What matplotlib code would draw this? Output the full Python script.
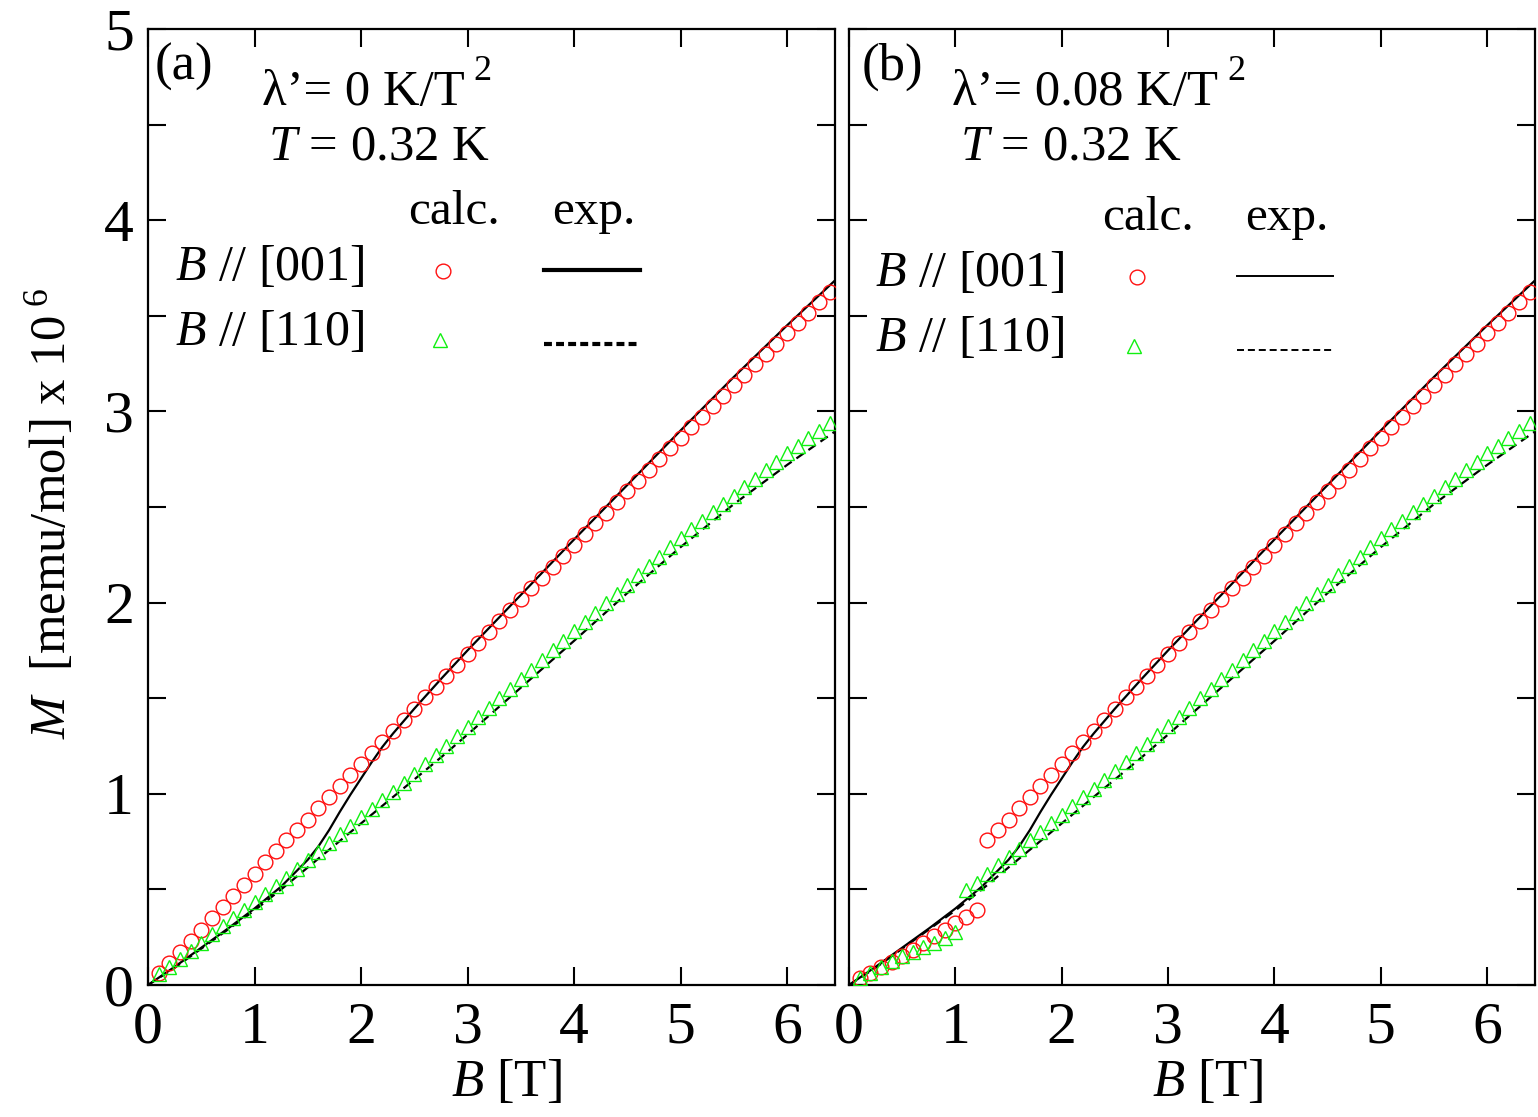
import matplotlib
matplotlib.use("Agg")
import matplotlib.pyplot as plt
from matplotlib.lines import Line2D

plt.rcParams['font.family'] = ['Liberation Serif', 'DejaVu Serif']
plt.rcParams['mathtext.fontset'] = 'custom'
plt.rcParams['mathtext.rm'] = 'Liberation Serif'
plt.rcParams['mathtext.it'] = 'Liberation Serif:italic'

# ---------------- data ----------------
B_calc = [0.1, 0.2, 0.3, 0.4, 0.5, 0.6, 0.7, 0.8, 0.9, 1.0,
          1.1, 1.2, 1.3, 1.4, 1.5, 1.6, 1.7, 1.8, 1.9, 2.0,
          2.1, 2.2, 2.3, 2.4, 2.5, 2.6, 2.7, 2.8, 2.9, 3.0,
          3.1, 3.2, 3.3, 3.4, 3.5, 3.6, 3.7, 3.8, 3.9, 4.0,
          4.1, 4.2, 4.3, 4.4, 4.5, 4.6, 4.7, 4.8, 4.9, 5.0,
          5.1, 5.2, 5.3, 5.4, 5.5, 5.6, 5.7, 5.8, 5.9, 6.0,
          6.1, 6.2, 6.3, 6.4]

# panel (a): lambda' = 0
Ma_001 = [0.064, 0.117, 0.174, 0.232, 0.288, 0.349, 0.408, 0.467, 0.525, 0.582,
          0.642, 0.699, 0.757, 0.810, 0.865, 0.924, 0.985, 1.040, 1.098, 1.154,
          1.215, 1.273, 1.328, 1.386, 1.442, 1.505, 1.560, 1.617, 1.675, 1.732,
          1.789, 1.846, 1.903, 1.960, 2.017, 2.074, 2.131, 2.188, 2.245, 2.301,
          2.358, 2.414, 2.470, 2.526, 2.582, 2.638, 2.694, 2.750, 2.806, 2.862,
          2.918, 2.973, 3.028, 3.083, 3.138, 3.192, 3.246, 3.300, 3.354, 3.408,
          3.462, 3.516, 3.570, 3.624]
Ma_110 = [0.056, 0.095, 0.138, 0.180, 0.222, 0.265, 0.308, 0.350, 0.392, 0.434,
          0.476, 0.518, 0.562, 0.607, 0.652, 0.698, 0.744, 0.789, 0.834, 0.878,
          0.922, 0.967, 1.012, 1.058, 1.106, 1.155, 1.203, 1.252, 1.301, 1.350,
          1.400, 1.450, 1.500, 1.550, 1.600, 1.650, 1.700, 1.750, 1.800, 1.849,
          1.898, 1.947, 1.996, 2.045, 2.094, 2.143, 2.192, 2.241, 2.290, 2.338,
          2.383, 2.428, 2.472, 2.516, 2.560, 2.604, 2.648, 2.692, 2.736, 2.780,
          2.820, 2.860, 2.900, 2.940]

# panel (b): lambda' = 0.08 K/T^2
Mb_001 = [0.035, 0.062, 0.092, 0.122, 0.150, 0.184, 0.219, 0.256, 0.289, 0.323,
          0.357, 0.392, 0.758, 0.810, 0.865, 0.924, 0.985, 1.040, 1.098, 1.154,
          1.215, 1.273, 1.328, 1.386, 1.442, 1.505, 1.560, 1.617, 1.675, 1.732,
          1.789, 1.846, 1.903, 1.960, 2.017, 2.074, 2.131, 2.188, 2.245, 2.301,
          2.358, 2.414, 2.470, 2.526, 2.582, 2.638, 2.694, 2.750, 2.806, 2.862,
          2.918, 2.973, 3.028, 3.083, 3.138, 3.192, 3.246, 3.300, 3.354, 3.408,
          3.462, 3.516, 3.570, 3.624]
Mb_110 = [0.035, 0.064, 0.094, 0.123, 0.150, 0.175, 0.200, 0.222, 0.248, 0.279,
          0.497, 0.535, 0.582, 0.628, 0.670, 0.712, 0.756, 0.800, 0.846, 0.891,
          0.936, 0.981, 1.026, 1.073, 1.119, 1.165, 1.212, 1.259, 1.306, 1.353,
          1.400, 1.450, 1.500, 1.550, 1.600, 1.650, 1.700, 1.750, 1.800, 1.849,
          1.898, 1.947, 1.996, 2.045, 2.094, 2.143, 2.192, 2.241, 2.290, 2.338,
          2.383, 2.428, 2.472, 2.516, 2.560, 2.604, 2.648, 2.692, 2.736, 2.780,
          2.820, 2.860, 2.900, 2.940]

# experiment (same in both panels)
B_exp001 = [0.0, 0.25, 0.5, 0.75, 1.0, 1.25, 1.5, 1.6, 1.7, 1.8, 1.9, 2.0,
            2.1, 2.2, 2.3, 2.4, 2.5, 2.75, 3.0, 3.5, 4.0, 4.5, 5.0, 5.5, 6.0, 6.45]
M_exp001 = [0.0, 0.095, 0.195, 0.295, 0.400, 0.515, 0.655, 0.725, 0.810, 0.905,
            0.995, 1.080, 1.165, 1.245, 1.315, 1.380, 1.445, 1.600, 1.750, 2.040,
            2.330, 2.615, 2.900, 3.180, 3.450, 3.685]
B_exp110 = [0.0, 0.25, 0.5, 0.75, 1.0, 1.25, 1.5, 1.75, 2.0, 2.25, 2.5, 2.75,
            3.0, 3.5, 4.0, 4.5, 5.0, 5.5, 6.0, 6.45]
M_exp110 = [0.0, 0.090, 0.190, 0.290, 0.390, 0.500, 0.615, 0.730, 0.845, 0.960,
            1.075, 1.190, 1.310, 1.555, 1.800, 2.050, 2.290, 2.515, 2.720, 2.895]

x_ticks = [0, 1, 2, 3, 4, 5, 6]
y_ticks = [0, 0.5, 1, 1.5, 2, 2.5, 3, 3.5, 4, 4.5, 5]
y_ticklabels = ['0', '', '1', '', '2', '', '3', '', '4', '', '5']

RED = '#ff1010'
GREEN = '#10f010'
MS_C = 10.6
MS_T = 10.2

W, H = 1538, 1117
fig = plt.figure(figsize=(W / 100, H / 100), dpi=100)


def fx(px):
    return px / W


def fy(py):
    return 1 - py / H


axa = fig.add_axes([fx(148), fy(985), fx(835) - fx(148), fy(29) - fy(985)])
axb = fig.add_axes([fx(849), fy(985), fx(1535) - fx(849), fy(29) - fy(985)])

panels = [
    (axa, Ma_001, Ma_110, True),
    (axb, Mb_001, Mb_110, False),
]

for ax, m001, m110, first in panels:
    ax.plot(B_exp001, M_exp001, color='black', lw=1.6, zorder=2)
    ax.plot(B_exp110, M_exp110, color='black', lw=1.6, ls=(0, (4, 2.6)), zorder=2)
    ax.plot(B_calc, m001, ls='none', marker='o', ms=MS_C, mfc='none', mec=RED,
            mew=1.0, zorder=3)
    ax.plot(B_calc, m110, ls='none', marker='^', ms=MS_T, mfc='none', mec=GREEN,
            mew=1.0, zorder=3)
    ax.set_xlim(0, 6.45)
    ax.set_ylim(0, 5)
    ax.set_xticks(x_ticks)
    ax.set_yticks(y_ticks)
    if first:
        ax.set_yticklabels(y_ticklabels)
    else:
        ax.set_yticklabels([])
    ax.tick_params(direction='in', length=13, width=1.5, top=True, right=True,
                   labelsize=43, pad=10)
    ax.tick_params(axis='x', pad=12)
    for s in ax.spines.values():
        s.set_linewidth(1.6)
    ax.set_xlabel(r'$\mathit{B}$ [T]', fontsize=38, labelpad=6)
    ax.xaxis.set_label_coords(0.522, -0.077)

fig.text(fx(50), fy(513), r'$\mathit{M}$  [memu/mol] x 10$^{\ 6}$', rotation=90,
         ha='center', va='center', fontsize=36.5)


def txt(px, py, s, size, **kw):
    return fig.text(fx(px), fy(py), s, fontsize=size, ha='left', va='baseline', **kw)


renderer = fig.canvas.get_renderer()

for tag, xtag, lam, xl, xT, xc, xe, xB, dy, thick in [
        ('(a)', 155, "λ’= 0 K/T", 262, 268, 408, 552, 175, 0, True),
        ('(b)', 862, "λ’= 0.08 K/T", 952, 960, 1102, 1245, 875, 6, False)]:
    txt(xtag, 80, tag, 38)
    t = txt(xl, 105, lam, 36.5)
    bb = t.get_window_extent(renderer)
    txt(bb.x1 + 9, 80, '2', 26)
    txt(xT, 160, r'$\mathit{T}$ = 0.32 K', 36.5)
    txt(xc, 224 + dy, 'calc.', 35.5)
    txt(xe, 224 + dy, 'exp.', 35.5)
    txt(xB, 280 + dy, r'$\mathit{B}$ // [001]', 36)
    txt(xB, 345 + dy, r'$\mathit{B}$ // [110]', 36)
    cx = xc + 35
    fig.add_artist(Line2D([fx(cx)], [fy(271 + dy)], marker='o', ms=MS_C, mfc='none',
                          mec=RED, mew=1.0, ls='none'))
    fig.add_artist(Line2D([fx(cx - 3)], [fy(340 + dy)], marker='^', ms=MS_T, mfc='none',
                          mec=GREEN, mew=1.0, ls='none'))
    lw = 3.0 if thick else 1.4
    dash = (0, (1.9, 1.0)) if thick else (0, (3.6, 2.0))
    fig.add_artist(Line2D([fx(xe - 8), fx(xe + 88)], [fy(270 + dy), fy(270 + dy)],
                          color='black', lw=lw))
    fig.add_artist(Line2D([fx(xe - 8), fx(xe + 88)], [fy(344 + dy), fy(344 + dy)],
                          color='black', lw=lw, ls=dash))

fig.savefig('out.png', dpi=100)
